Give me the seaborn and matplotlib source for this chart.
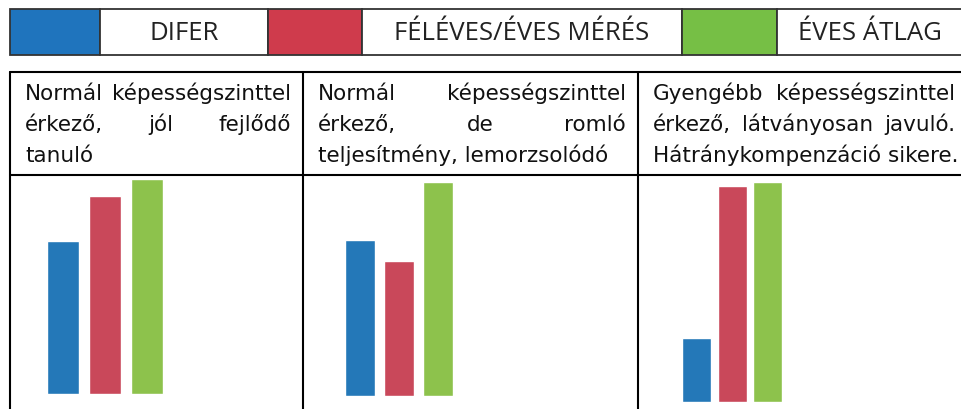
import matplotlib
matplotlib.use("Agg")
import matplotlib.pyplot as plt
from matplotlib.patches import Rectangle
import seaborn as sns

sns.set_theme(style="white")
plt.rcParams["font.family"] = ["Open Sans", "DejaVu Sans"]

# data (bar heights relative to the tallest bar = 100)
series = ["DIFER", "FÉLÉVES/ÉVES MÉRÉS", "ÉVES ÁTLAG"]
difer = [71, 73, 29]
feleves = [92, 63, 98]
eves_atlag = [100, 100, 100]
header_lines = [
    ["Normál képességszinttel", "érkező, jól fejlődő", "tanuló"],
    ["Normál képességszinttel", "érkező, de romló", "teljesítmény, lemorzsolódó"],
    ["Gyengébb képességszinttel", "érkező, látványosan javuló.", "Hátránykompenzáció sikere."],
]

bar_colors = ["#2478b8", "#c9485a", "#8dc24c"]
legend_colors = ["#1f74bd", "#cf3b4c", "#76bf45"]

W, H = 962, 410
fig = plt.figure(figsize=(W / 100, H / 100), dpi=100)
frame = fig.add_axes([0, 0, 1, 1])
frame.set_xlim(0, W)
frame.set_ylim(H, 0)
frame.axis("off")

# legend row
line_c = "#333333"
legend_boxes = [(10, 100, 268), (268, 362, 682), (682, 777, 975)]
for (x0, x1, x2), col, name in zip(legend_boxes, legend_colors, series):
    frame.add_patch(Rectangle((x0, 10), x1 - x0, 46, facecolor=col, edgecolor=line_c, lw=1.3))
    frame.add_patch(Rectangle((x1, 10), x2 - x1, 46, facecolor="white", edgecolor=line_c, lw=1.3))
    frame.text((x1 + min(x2, W)) / 2, 33, name, ha="center", va="center", fontsize=18.5, color="#222222")

# table grid
cols = [10, 303, 638, 975]
frame.plot([10, W], [73, 73], color="black", lw=1.5)
frame.plot([10, W], [176, 176], color="black", lw=1.5)
for x in cols[:3]:
    frame.plot([x, x], [73, H], color="black", lw=1.5)

# header cells, justified like the original
renderer = fig.canvas.get_renderer()
baselines = [100, 131, 162]
hdr = dict(va="baseline", fontsize=15.5, color="#111111", family=["DejaVu Sans"])
for i, lines in enumerate(header_lines):
    left = cols[i] + 15
    right = cols[i + 1] - 12 if i < 2 else 955
    for j, line in enumerate(lines):
        words = line.split()
        if j == len(lines) - 1 or len(words) == 1:
            frame.text(left, baselines[j], line, ha="left", **hdr)
            continue
        objs = [frame.text(0, baselines[j], w, ha="left", **hdr) for w in words]
        widths = [o.get_window_extent(renderer).width for o in objs]
        gap = (right - left - sum(widths)) / (len(words) - 1)
        x = left
        for o, wd in zip(objs, widths):
            o.set_x(x)
            x += wd + gap

# bar panels: (left, width, bottom, top, bar width)
panels = [(42, 126, 395, 180, 0.76), (340, 118, 397, 183, 0.76), (678.6, 107, 403, 183, 0.81)]
for k, (l, wpx, b, t, bw) in enumerate(panels):
    ax = fig.add_axes([l / W, 1 - b / H, wpx / W, (b - t) / H])
    vals = [difer[k], feleves[k], eves_atlag[k]]
    sns.barplot(x=series, y=vals, hue=series, palette=bar_colors, width=bw,
                saturation=1, legend=False, ax=ax)
    ax.set_xlim(-0.5, 2.5)
    ax.set_ylim(0, 100)
    ax.axis("off")

fig.savefig("out.png", dpi=100)
